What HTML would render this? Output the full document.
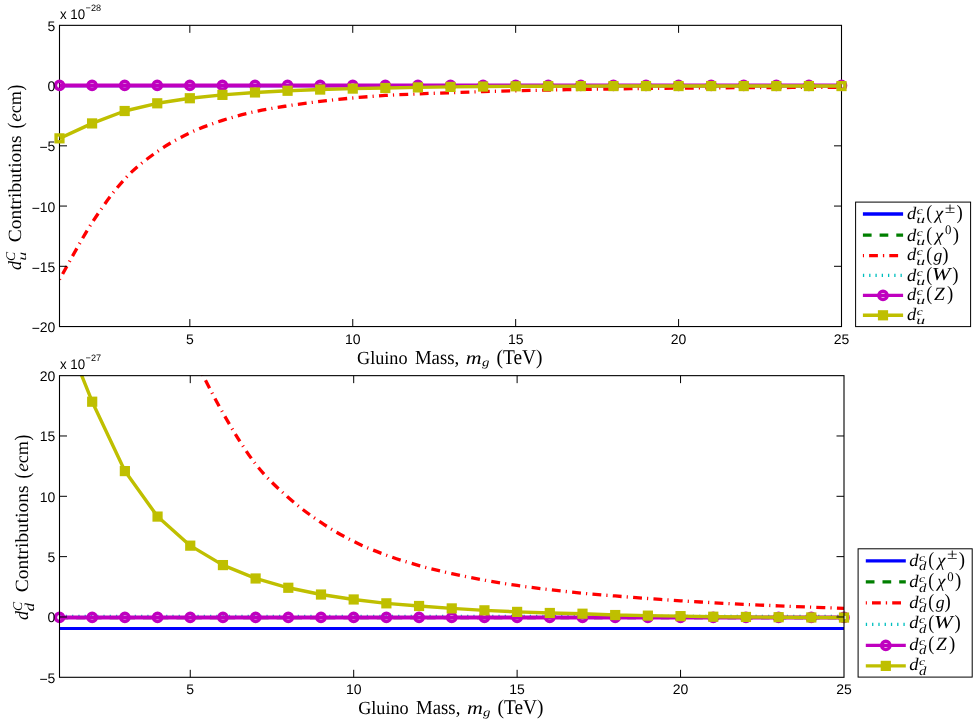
<!DOCTYPE html>
<html><head><meta charset="utf-8"><title>plot</title>
<style>
html,body{margin:0;padding:0;background:#fff;}
body{width:975px;height:725px;overflow:hidden;}
svg{display:block;will-change:transform;}
text{text-rendering:geometricPrecision;}
.tk{font-family:"Liberation Sans",sans-serif;font-size:14px;fill:#000;}
.ex{font-family:"Liberation Sans",sans-serif;font-size:9.3px;fill:#000;}
.lb{font-family:"Liberation Serif",serif;font-size:19.5px;fill:#000;}
.lg{font-family:"Liberation Serif",serif;font-size:18.5px;fill:#000;}
.it{font-style:italic;}
</style></head><body>
<svg width="975" height="725" viewBox="0 0 975 725">
<rect x="0" y="0" width="975" height="725" fill="#fff"/>

<defs><clipPath id="cpT"><rect x="59.50" y="24.85" width="782.50" height="302.20"/></clipPath></defs>
<g id="plotT">
<g clip-path="url(#cpT)" fill="none" stroke-linejoin="round">
<line x1="59.50" y1="85.69" x2="841.50" y2="85.69" stroke="#0000ff" stroke-width="3.1"/>
<line x1="59.50" y1="85.59" x2="841.50" y2="85.59" stroke="#007f00" stroke-width="3.0" stroke-dasharray="8.7 8"/>
<path d="M59.50,279.56 C64.93,270.09 81.22,239.44 92.08,222.70 C102.94,205.95 113.81,190.93 124.67,179.08 C135.53,167.24 146.39,159.30 157.25,151.61 C168.11,143.92 178.97,138.14 189.83,132.94 C200.69,127.74 211.56,123.96 222.42,120.41 C233.28,116.85 244.14,114.04 255.00,111.61 C265.86,109.18 276.72,107.54 287.58,105.83 C298.44,104.12 309.31,102.68 320.17,101.37 C331.03,100.07 341.89,98.98 352.75,98.00 C363.61,97.02 374.47,96.15 385.33,95.47 C396.19,94.79 407.06,94.36 417.92,93.90 C428.78,93.44 439.64,93.08 450.50,92.70 C461.36,92.32 472.22,91.94 483.08,91.61 C493.94,91.29 504.81,91.03 515.67,90.77 C526.53,90.51 537.39,90.27 548.25,90.05 C559.11,89.83 569.97,89.63 580.83,89.45 C591.69,89.26 602.56,89.12 613.42,88.96 C624.28,88.80 635.14,88.62 646.00,88.48 C656.86,88.34 667.72,88.22 678.58,88.12 C689.44,88.02 700.31,87.96 711.17,87.88 C722.03,87.80 732.89,87.70 743.75,87.64 C754.61,87.58 765.47,87.56 776.33,87.52 C787.19,87.48 798.06,87.44 808.92,87.40 C819.78,87.36 836.07,87.30 841.50,87.28" stroke="#ff0000" stroke-width="3.3" stroke-dasharray="8.85 5.1 1.15 5.3" stroke-dashoffset="13.9"/>
<line x1="59.50" y1="85.59" x2="841.50" y2="85.59" stroke="#00bfbf" stroke-width="2.6" stroke-dasharray="1.3 4.97"/>
</g>
<rect x="59.50" y="25.35" width="782.00" height="301.20" fill="none" stroke="#000" stroke-width="1.1"/>
<line x1="189.83" y1="326.55" x2="189.83" y2="319.05" stroke="#000" stroke-width="1"/>
<line x1="189.83" y1="25.35" x2="189.83" y2="32.85" stroke="#000" stroke-width="1"/>
<line x1="352.75" y1="326.55" x2="352.75" y2="319.05" stroke="#000" stroke-width="1"/>
<line x1="352.75" y1="25.35" x2="352.75" y2="32.85" stroke="#000" stroke-width="1"/>
<line x1="515.67" y1="326.55" x2="515.67" y2="319.05" stroke="#000" stroke-width="1"/>
<line x1="515.67" y1="25.35" x2="515.67" y2="32.85" stroke="#000" stroke-width="1"/>
<line x1="678.58" y1="326.55" x2="678.58" y2="319.05" stroke="#000" stroke-width="1"/>
<line x1="678.58" y1="25.35" x2="678.58" y2="32.85" stroke="#000" stroke-width="1"/>
<line x1="59.50" y1="85.59" x2="67.00" y2="85.59" stroke="#000" stroke-width="1"/>
<line x1="841.50" y1="85.59" x2="834.00" y2="85.59" stroke="#000" stroke-width="1"/>
<line x1="59.50" y1="145.83" x2="67.00" y2="145.83" stroke="#000" stroke-width="1"/>
<line x1="841.50" y1="145.83" x2="834.00" y2="145.83" stroke="#000" stroke-width="1"/>
<line x1="59.50" y1="206.07" x2="67.00" y2="206.07" stroke="#000" stroke-width="1"/>
<line x1="841.50" y1="206.07" x2="834.00" y2="206.07" stroke="#000" stroke-width="1"/>
<line x1="59.50" y1="266.31" x2="67.00" y2="266.31" stroke="#000" stroke-width="1"/>
<line x1="841.50" y1="266.31" x2="834.00" y2="266.31" stroke="#000" stroke-width="1"/>
<line x1="59.50" y1="85.39" x2="841.50" y2="85.39" stroke="#bf00bf" stroke-width="4.0"/>
<circle cx="59.50" cy="85.39" r="4.1" fill="none" stroke="#bf00bf" stroke-width="3.5"/>
<circle cx="92.08" cy="85.39" r="4.1" fill="none" stroke="#bf00bf" stroke-width="3.5"/>
<circle cx="124.67" cy="85.39" r="4.1" fill="none" stroke="#bf00bf" stroke-width="3.5"/>
<circle cx="157.25" cy="85.39" r="4.1" fill="none" stroke="#bf00bf" stroke-width="3.5"/>
<circle cx="189.83" cy="85.39" r="4.1" fill="none" stroke="#bf00bf" stroke-width="3.5"/>
<circle cx="222.42" cy="85.39" r="4.1" fill="none" stroke="#bf00bf" stroke-width="3.5"/>
<circle cx="255.00" cy="85.39" r="4.1" fill="none" stroke="#bf00bf" stroke-width="3.5"/>
<circle cx="287.58" cy="85.39" r="4.1" fill="none" stroke="#bf00bf" stroke-width="3.5"/>
<circle cx="320.17" cy="85.39" r="4.1" fill="none" stroke="#bf00bf" stroke-width="3.5"/>
<circle cx="352.75" cy="85.39" r="4.1" fill="none" stroke="#bf00bf" stroke-width="3.5"/>
<circle cx="385.33" cy="85.39" r="4.1" fill="none" stroke="#bf00bf" stroke-width="3.5"/>
<circle cx="417.92" cy="85.39" r="4.1" fill="none" stroke="#bf00bf" stroke-width="3.5"/>
<circle cx="450.50" cy="85.39" r="4.1" fill="none" stroke="#bf00bf" stroke-width="3.5"/>
<circle cx="483.08" cy="85.39" r="4.1" fill="none" stroke="#bf00bf" stroke-width="3.5"/>
<circle cx="515.67" cy="85.39" r="4.1" fill="none" stroke="#bf00bf" stroke-width="3.5"/>
<circle cx="548.25" cy="85.39" r="4.1" fill="none" stroke="#bf00bf" stroke-width="3.5"/>
<circle cx="580.83" cy="85.39" r="4.1" fill="none" stroke="#bf00bf" stroke-width="3.5"/>
<circle cx="613.42" cy="85.39" r="4.1" fill="none" stroke="#bf00bf" stroke-width="3.5"/>
<circle cx="646.00" cy="85.39" r="4.1" fill="none" stroke="#bf00bf" stroke-width="3.5"/>
<circle cx="678.58" cy="85.39" r="4.1" fill="none" stroke="#bf00bf" stroke-width="3.5"/>
<circle cx="711.17" cy="85.39" r="4.1" fill="none" stroke="#bf00bf" stroke-width="3.5"/>
<circle cx="743.75" cy="85.39" r="4.1" fill="none" stroke="#bf00bf" stroke-width="3.5"/>
<circle cx="776.33" cy="85.39" r="4.1" fill="none" stroke="#bf00bf" stroke-width="3.5"/>
<circle cx="808.92" cy="85.39" r="4.1" fill="none" stroke="#bf00bf" stroke-width="3.5"/>
<circle cx="841.50" cy="85.39" r="4.1" fill="none" stroke="#bf00bf" stroke-width="3.5"/>
<polyline clip-path="url(#cpT)" points="59.50,138.36 92.08,123.42 124.67,111.01 157.25,103.30 189.83,98.24 222.42,94.87 255.00,92.46 287.58,90.77 320.17,89.57 352.75,88.60 385.33,88.00 417.92,87.40 450.50,86.92 483.08,86.55 515.67,86.31 548.25,86.19 580.83,86.13 613.42,86.07 646.00,86.07 678.58,86.07 711.17,86.07 743.75,86.07 776.33,86.07 808.92,86.07 841.50,86.07" fill="none" stroke="#bfbf00" stroke-width="3.4" stroke-linejoin="round"/>
<rect x="56.10" y="134.96" width="6.80" height="6.80" fill="none" stroke="#bfbf00" stroke-width="3.4"/>
<rect x="88.68" y="120.02" width="6.80" height="6.80" fill="#bfbf00" stroke="#bfbf00" stroke-width="3.4"/>
<rect x="121.27" y="107.61" width="6.80" height="6.80" fill="#bfbf00" stroke="#bfbf00" stroke-width="3.4"/>
<rect x="153.85" y="99.90" width="6.80" height="6.80" fill="#bfbf00" stroke="#bfbf00" stroke-width="3.4"/>
<rect x="186.43" y="94.84" width="6.80" height="6.80" fill="#bfbf00" stroke="#bfbf00" stroke-width="3.4"/>
<rect x="219.02" y="91.47" width="6.80" height="6.80" fill="#bfbf00" stroke="#bfbf00" stroke-width="3.4"/>
<rect x="251.60" y="89.06" width="6.80" height="6.80" fill="#bfbf00" stroke="#bfbf00" stroke-width="3.4"/>
<rect x="284.18" y="87.37" width="6.80" height="6.80" fill="#bfbf00" stroke="#bfbf00" stroke-width="3.4"/>
<rect x="316.77" y="86.17" width="6.80" height="6.80" fill="#bfbf00" stroke="#bfbf00" stroke-width="3.4"/>
<rect x="349.35" y="85.20" width="6.80" height="6.80" fill="#bfbf00" stroke="#bfbf00" stroke-width="3.4"/>
<rect x="381.93" y="84.60" width="6.80" height="6.80" fill="#bfbf00" stroke="#bfbf00" stroke-width="3.4"/>
<rect x="414.52" y="84.00" width="6.80" height="6.80" fill="#bfbf00" stroke="#bfbf00" stroke-width="3.4"/>
<rect x="447.10" y="83.52" width="6.80" height="6.80" fill="#bfbf00" stroke="#bfbf00" stroke-width="3.4"/>
<rect x="479.68" y="83.15" width="6.80" height="6.80" fill="#bfbf00" stroke="#bfbf00" stroke-width="3.4"/>
<rect x="512.27" y="82.91" width="6.80" height="6.80" fill="#bfbf00" stroke="#bfbf00" stroke-width="3.4"/>
<rect x="544.85" y="82.79" width="6.80" height="6.80" fill="#bfbf00" stroke="#bfbf00" stroke-width="3.4"/>
<rect x="577.43" y="82.73" width="6.80" height="6.80" fill="#bfbf00" stroke="#bfbf00" stroke-width="3.4"/>
<rect x="610.02" y="82.67" width="6.80" height="6.80" fill="#bfbf00" stroke="#bfbf00" stroke-width="3.4"/>
<rect x="642.60" y="82.67" width="6.80" height="6.80" fill="#bfbf00" stroke="#bfbf00" stroke-width="3.4"/>
<rect x="675.18" y="82.67" width="6.80" height="6.80" fill="#bfbf00" stroke="#bfbf00" stroke-width="3.4"/>
<rect x="707.77" y="82.67" width="6.80" height="6.80" fill="#bfbf00" stroke="#bfbf00" stroke-width="3.4"/>
<rect x="740.35" y="82.67" width="6.80" height="6.80" fill="#bfbf00" stroke="#bfbf00" stroke-width="3.4"/>
<rect x="772.93" y="82.67" width="6.80" height="6.80" fill="#bfbf00" stroke="#bfbf00" stroke-width="3.4"/>
<rect x="805.52" y="82.67" width="6.80" height="6.80" fill="#bfbf00" stroke="#bfbf00" stroke-width="3.4"/>
<rect x="838.10" y="82.67" width="6.80" height="6.80" fill="none" stroke="#bfbf00" stroke-width="3.4"/>
<text class="tk" x="189.83" y="343.65" text-anchor="middle">5</text>
<text class="tk" x="352.75" y="343.65" text-anchor="middle">10</text>
<text class="tk" x="515.67" y="343.65" text-anchor="middle">15</text>
<text class="tk" x="678.58" y="343.65" text-anchor="middle">20</text>
<text class="tk" x="841.50" y="343.65" text-anchor="middle">25</text>
<text class="tk" x="55.4" y="30.80" text-anchor="end">5</text>
<text class="tk" x="55.4" y="91.04" text-anchor="end">0</text>
<text class="tk" x="55.4" y="151.28" text-anchor="end"><tspan dy="1.1">−</tspan><tspan dy="-1.1">5</tspan></text>
<text class="tk" x="55.4" y="211.52" text-anchor="end"><tspan dy="1.1">−</tspan><tspan dy="-1.1">10</tspan></text>
<text class="tk" x="55.4" y="271.76" text-anchor="end"><tspan dy="1.1">−</tspan><tspan dy="-1.1">15</tspan></text>
<text class="tk" x="55.4" y="332.00" text-anchor="end"><tspan dy="1.1">−</tspan><tspan dy="-1.1">20</tspan></text>
</g>
<defs><clipPath id="cpB"><rect x="59.50" y="375.15" width="785.00" height="302.65"/></clipPath></defs>
<g id="plotB">
<g clip-path="url(#cpB)" fill="none" stroke-linejoin="round">
<line x1="59.50" y1="628.53" x2="844.00" y2="628.53" stroke="#0000ff" stroke-width="3.1"/>
<line x1="59.50" y1="617.87" x2="844.00" y2="617.87" stroke="#007f00" stroke-width="3.0" stroke-dasharray="8.7 8"/>
<path d="M190.25,350.31 C195.70,360.77 212.04,394.09 222.94,413.05 C233.83,432.02 244.73,450.02 255.62,464.09 C266.52,478.17 277.42,487.78 288.31,497.52 C299.21,507.25 310.10,515.17 321.00,522.49 C331.90,529.81 342.79,535.99 353.69,541.44 C364.58,546.89 375.48,551.17 386.38,555.19 C397.27,559.21 408.17,562.49 419.06,565.57 C429.96,568.65 440.85,571.22 451.75,573.65 C462.65,576.09 473.54,578.20 484.44,580.17 C495.33,582.14 506.23,583.89 517.12,585.48 C528.02,587.07 538.92,588.41 549.81,589.70 C560.71,590.99 571.60,592.15 582.50,593.20 C593.40,594.25 604.29,595.09 615.19,595.98 C626.08,596.86 636.98,597.70 647.88,598.51 C658.77,599.31 669.67,600.10 680.56,600.80 C691.46,601.51 702.35,602.13 713.25,602.73 C724.15,603.34 735.04,603.90 745.94,604.42 C756.83,604.94 767.73,605.41 778.62,605.87 C789.52,606.33 800.42,606.79 811.31,607.20 C822.21,607.60 838.55,608.10 844.00,608.28" stroke="#ff0000" stroke-width="3.3" stroke-dasharray="8.85 5.1 1.15 5.3" stroke-dashoffset="7.1"/>
<line x1="59.50" y1="616.07" x2="844.00" y2="616.07" stroke="#00bfbf" stroke-width="2.6" stroke-dasharray="1.3 4.97"/>
</g>
<line x1="59.50" y1="617.47" x2="844.00" y2="617.47" stroke="#bf00bf" stroke-width="4.0"/>
<circle cx="59.50" cy="617.47" r="4.1" fill="none" stroke="#bf00bf" stroke-width="3.5"/>
<circle cx="92.19" cy="617.47" r="4.1" fill="none" stroke="#bf00bf" stroke-width="3.5"/>
<circle cx="124.88" cy="617.47" r="4.1" fill="none" stroke="#bf00bf" stroke-width="3.5"/>
<circle cx="157.56" cy="617.47" r="4.1" fill="none" stroke="#bf00bf" stroke-width="3.5"/>
<circle cx="190.25" cy="617.47" r="4.1" fill="none" stroke="#bf00bf" stroke-width="3.5"/>
<circle cx="222.94" cy="617.47" r="4.1" fill="none" stroke="#bf00bf" stroke-width="3.5"/>
<circle cx="255.62" cy="617.47" r="4.1" fill="none" stroke="#bf00bf" stroke-width="3.5"/>
<circle cx="288.31" cy="617.47" r="4.1" fill="none" stroke="#bf00bf" stroke-width="3.5"/>
<circle cx="321.00" cy="617.47" r="4.1" fill="none" stroke="#bf00bf" stroke-width="3.5"/>
<circle cx="353.69" cy="617.47" r="4.1" fill="none" stroke="#bf00bf" stroke-width="3.5"/>
<circle cx="386.38" cy="617.47" r="4.1" fill="none" stroke="#bf00bf" stroke-width="3.5"/>
<circle cx="419.06" cy="617.47" r="4.1" fill="none" stroke="#bf00bf" stroke-width="3.5"/>
<circle cx="451.75" cy="617.47" r="4.1" fill="none" stroke="#bf00bf" stroke-width="3.5"/>
<circle cx="484.44" cy="617.47" r="4.1" fill="none" stroke="#bf00bf" stroke-width="3.5"/>
<circle cx="517.12" cy="617.47" r="4.1" fill="none" stroke="#bf00bf" stroke-width="3.5"/>
<circle cx="549.81" cy="617.47" r="4.1" fill="none" stroke="#bf00bf" stroke-width="3.5"/>
<circle cx="582.50" cy="617.47" r="4.1" fill="none" stroke="#bf00bf" stroke-width="3.5"/>
<circle cx="615.19" cy="617.47" r="4.1" fill="none" stroke="#bf00bf" stroke-width="3.5"/>
<circle cx="647.88" cy="617.47" r="4.1" fill="none" stroke="#bf00bf" stroke-width="3.5"/>
<circle cx="680.56" cy="617.47" r="4.1" fill="none" stroke="#bf00bf" stroke-width="3.5"/>
<circle cx="713.25" cy="617.47" r="4.1" fill="none" stroke="#bf00bf" stroke-width="3.5"/>
<circle cx="745.94" cy="617.47" r="4.1" fill="none" stroke="#bf00bf" stroke-width="3.5"/>
<circle cx="778.62" cy="617.47" r="4.1" fill="none" stroke="#bf00bf" stroke-width="3.5"/>
<circle cx="811.31" cy="617.47" r="4.1" fill="none" stroke="#bf00bf" stroke-width="3.5"/>
<circle cx="844.00" cy="617.47" r="4.1" fill="none" stroke="#bf00bf" stroke-width="3.5"/>
<polyline clip-path="url(#cpB)" points="59.50,320.15 92.19,401.71 124.88,471.09 157.56,516.58 190.25,545.66 222.94,565.09 255.62,578.48 288.31,587.77 321.00,594.53 353.69,599.47 386.38,603.34 419.06,605.99 451.75,608.40 484.44,610.33 517.12,611.90 549.81,612.99 582.50,613.71 615.19,615.04 647.88,615.64 680.56,616.13 713.25,616.73 745.94,616.97 778.62,617.21 811.31,617.45 844.00,617.57" fill="none" stroke="#bfbf00" stroke-width="3.4" stroke-linejoin="round"/>
<rect x="88.79" y="398.31" width="6.80" height="6.80" fill="#bfbf00" stroke="#bfbf00" stroke-width="3.4"/>
<rect x="121.47" y="467.69" width="6.80" height="6.80" fill="#bfbf00" stroke="#bfbf00" stroke-width="3.4"/>
<rect x="154.16" y="513.18" width="6.80" height="6.80" fill="#bfbf00" stroke="#bfbf00" stroke-width="3.4"/>
<rect x="186.85" y="542.26" width="6.80" height="6.80" fill="#bfbf00" stroke="#bfbf00" stroke-width="3.4"/>
<rect x="219.54" y="561.69" width="6.80" height="6.80" fill="#bfbf00" stroke="#bfbf00" stroke-width="3.4"/>
<rect x="252.22" y="575.08" width="6.80" height="6.80" fill="#bfbf00" stroke="#bfbf00" stroke-width="3.4"/>
<rect x="284.91" y="584.37" width="6.80" height="6.80" fill="#bfbf00" stroke="#bfbf00" stroke-width="3.4"/>
<rect x="317.60" y="591.13" width="6.80" height="6.80" fill="#bfbf00" stroke="#bfbf00" stroke-width="3.4"/>
<rect x="350.29" y="596.07" width="6.80" height="6.80" fill="#bfbf00" stroke="#bfbf00" stroke-width="3.4"/>
<rect x="382.98" y="599.94" width="6.80" height="6.80" fill="#bfbf00" stroke="#bfbf00" stroke-width="3.4"/>
<rect x="415.66" y="602.59" width="6.80" height="6.80" fill="#bfbf00" stroke="#bfbf00" stroke-width="3.4"/>
<rect x="448.35" y="605.00" width="6.80" height="6.80" fill="#bfbf00" stroke="#bfbf00" stroke-width="3.4"/>
<rect x="481.04" y="606.93" width="6.80" height="6.80" fill="#bfbf00" stroke="#bfbf00" stroke-width="3.4"/>
<rect x="513.73" y="608.50" width="6.80" height="6.80" fill="#bfbf00" stroke="#bfbf00" stroke-width="3.4"/>
<rect x="546.41" y="609.59" width="6.80" height="6.80" fill="#bfbf00" stroke="#bfbf00" stroke-width="3.4"/>
<rect x="579.10" y="610.31" width="6.80" height="6.80" fill="#bfbf00" stroke="#bfbf00" stroke-width="3.4"/>
<rect x="611.79" y="611.64" width="6.80" height="6.80" fill="#bfbf00" stroke="#bfbf00" stroke-width="3.4"/>
<rect x="644.48" y="612.24" width="6.80" height="6.80" fill="#bfbf00" stroke="#bfbf00" stroke-width="3.4"/>
<rect x="677.16" y="612.73" width="6.80" height="6.80" fill="#bfbf00" stroke="#bfbf00" stroke-width="3.4"/>
<rect x="709.85" y="613.33" width="6.80" height="6.80" fill="#bfbf00" stroke="#bfbf00" stroke-width="3.4"/>
<rect x="742.54" y="613.57" width="6.80" height="6.80" fill="#bfbf00" stroke="#bfbf00" stroke-width="3.4"/>
<rect x="775.23" y="613.81" width="6.80" height="6.80" fill="#bfbf00" stroke="#bfbf00" stroke-width="3.4"/>
<rect x="807.91" y="614.05" width="6.80" height="6.80" fill="#bfbf00" stroke="#bfbf00" stroke-width="3.4"/>
<rect x="840.60" y="614.17" width="6.80" height="6.80" fill="none" stroke="#bfbf00" stroke-width="3.4"/>
<rect x="59.50" y="375.65" width="784.50" height="301.65" fill="none" stroke="#000" stroke-width="1.1"/>
<line x1="190.25" y1="677.30" x2="190.25" y2="669.80" stroke="#000" stroke-width="1"/>
<line x1="190.25" y1="375.65" x2="190.25" y2="383.15" stroke="#000" stroke-width="1"/>
<line x1="353.69" y1="677.30" x2="353.69" y2="669.80" stroke="#000" stroke-width="1"/>
<line x1="353.69" y1="375.65" x2="353.69" y2="383.15" stroke="#000" stroke-width="1"/>
<line x1="517.12" y1="677.30" x2="517.12" y2="669.80" stroke="#000" stroke-width="1"/>
<line x1="517.12" y1="375.65" x2="517.12" y2="383.15" stroke="#000" stroke-width="1"/>
<line x1="680.56" y1="677.30" x2="680.56" y2="669.80" stroke="#000" stroke-width="1"/>
<line x1="680.56" y1="375.65" x2="680.56" y2="383.15" stroke="#000" stroke-width="1"/>
<line x1="59.50" y1="435.98" x2="67.00" y2="435.98" stroke="#000" stroke-width="1"/>
<line x1="844.00" y1="435.98" x2="836.50" y2="435.98" stroke="#000" stroke-width="1"/>
<line x1="59.50" y1="496.31" x2="67.00" y2="496.31" stroke="#000" stroke-width="1"/>
<line x1="844.00" y1="496.31" x2="836.50" y2="496.31" stroke="#000" stroke-width="1"/>
<line x1="59.50" y1="556.64" x2="67.00" y2="556.64" stroke="#000" stroke-width="1"/>
<line x1="844.00" y1="556.64" x2="836.50" y2="556.64" stroke="#000" stroke-width="1"/>
<line x1="59.50" y1="616.97" x2="67.00" y2="616.97" stroke="#000" stroke-width="1"/>
<line x1="844.00" y1="616.97" x2="836.50" y2="616.97" stroke="#000" stroke-width="1"/>
<text class="tk" x="190.25" y="694.40" text-anchor="middle">5</text>
<text class="tk" x="353.69" y="694.40" text-anchor="middle">10</text>
<text class="tk" x="517.12" y="694.40" text-anchor="middle">15</text>
<text class="tk" x="680.56" y="694.40" text-anchor="middle">20</text>
<text class="tk" x="844.00" y="694.40" text-anchor="middle">25</text>
<text class="tk" x="55.4" y="381.10" text-anchor="end">20</text>
<text class="tk" x="55.4" y="441.43" text-anchor="end">15</text>
<text class="tk" x="55.4" y="501.76" text-anchor="end">10</text>
<text class="tk" x="55.4" y="562.09" text-anchor="end">5</text>
<text class="tk" x="55.4" y="622.42" text-anchor="end">0</text>
<text class="tk" x="55.4" y="682.75" text-anchor="end"><tspan dy="1.1">−</tspan><tspan dy="-1.1">5</tspan></text>
</g>
<text transform="matrix(0.9497 0 0 1.0000 60.00 18.75)" font-family="Liberation Sans" font-size="14" fill="#000">x 10</text>
<text transform="matrix(0.9720 0 0 1.0000 85.57 10.75)" font-family="Liberation Sans" font-size="9.4" fill="#000">−28</text>
<text transform="matrix(0.9497 0 0 1.0000 60.00 369.05)" font-family="Liberation Sans" font-size="14" fill="#000">x 10</text>
<text transform="matrix(0.9720 0 0 1.0000 85.57 361.05)" font-family="Liberation Sans" font-size="9.4" fill="#000">−27</text>
<g id="xlT">
<text transform="matrix(0.9188 0 0 0.9410 357.03 363.90)" font-family="Liberation Serif" font-size="19.8" fill="#000">Gluino</text>
<text transform="matrix(0.9490 0 0 1.0082 414.91 363.90)" font-family="Liberation Serif" font-size="19.8" fill="#000">Mass,</text>
<text transform="matrix(1.1082 0 0 0.9384 465.81 363.90)" font-family="Liberation Serif" font-size="19.8" font-style="italic" fill="#000">m</text>
<text transform="matrix(1.0694 0 0 0.8288 481.90 366.08)" font-family="Liberation Serif" font-size="13.9" font-style="italic" fill="#000">g</text>
<text transform="matrix(0.9791 0 0 1.0628 496.49 364.00)" font-family="Liberation Serif" font-size="19.8" fill="#000">(TeV)</text>
</g>
<g id="xlB">
<text transform="matrix(0.9188 0 0 0.9410 358.13 714.30)" font-family="Liberation Serif" font-size="19.8" fill="#000">Gluino</text>
<text transform="matrix(0.9490 0 0 1.0082 416.01 714.30)" font-family="Liberation Serif" font-size="19.8" fill="#000">Mass,</text>
<text transform="matrix(1.1082 0 0 0.9384 466.91 714.30)" font-family="Liberation Serif" font-size="19.8" font-style="italic" fill="#000">m</text>
<text transform="matrix(1.0694 0 0 0.8288 483.00 716.48)" font-family="Liberation Serif" font-size="13.9" font-style="italic" fill="#000">g</text>
<text transform="matrix(0.9791 0 0 1.0628 497.59 714.40)" font-family="Liberation Serif" font-size="19.8" fill="#000">(TeV)</text>
</g>
<g id="ylT" transform="translate(21.40,269.70) rotate(-90)">
<text transform="matrix(0.9091 0 0 0.9410 -0.28 0.00)" font-family="Liberation Serif" font-size="19.8" font-style="italic" fill="#000">d</text>
<text transform="matrix(0.9770 0 0 0.9627 8.66 -6.21)" font-family="Liberation Serif" font-size="13.9" font-style="italic" fill="#000">C</text>
<text transform="matrix(1.2960 0 0 0.8466 8.86 4.62)" font-family="Liberation Serif" font-size="13.9" font-style="italic" fill="#000">u</text>
<text transform="matrix(0.9814 0 0 0.9410 27.49 0.00)" font-family="Liberation Serif" font-size="19.8" fill="#000">Contributions</text>
<text transform="matrix(0.8799 0 0 1.0574 141.26 0.22)" font-family="Liberation Serif" font-size="19.8" fill="#000">(</text>
<text transform="matrix(0.9821 0 0 0.9176 148.00 0.00)" font-family="Liberation Serif" font-size="19.8" font-style="italic" fill="#000">e</text>
<text transform="matrix(0.9216 0 0 0.9176 156.43 0.00)" font-family="Liberation Serif" font-size="19.8" fill="#000">cm</text>
<text transform="matrix(0.8746 0 0 1.0574 179.16 0.22)" font-family="Liberation Serif" font-size="19.8" fill="#000">)</text>
</g>
<g id="ylB" transform="translate(28.40,619.70) rotate(-90)">
<text transform="matrix(0.9091 0 0 0.9410 -0.28 0.00)" font-family="Liberation Serif" font-size="19.8" font-style="italic" fill="#000">d</text>
<text transform="matrix(0.9770 0 0 0.9627 8.66 -6.21)" font-family="Liberation Serif" font-size="13.9" font-style="italic" fill="#000">C</text>
<text transform="matrix(1.1942 0 0 0.9709 8.34 5.39)" font-family="Liberation Serif" font-size="13.9" font-style="italic" fill="#000">d</text>
<text transform="matrix(0.9814 0 0 0.9410 27.49 0.00)" font-family="Liberation Serif" font-size="19.8" fill="#000">Contributions</text>
<text transform="matrix(0.8799 0 0 1.0574 141.26 0.22)" font-family="Liberation Serif" font-size="19.8" fill="#000">(</text>
<text transform="matrix(0.9821 0 0 0.9176 148.00 0.00)" font-family="Liberation Serif" font-size="19.8" font-style="italic" fill="#000">e</text>
<text transform="matrix(0.9216 0 0 0.9176 156.43 0.00)" font-family="Liberation Serif" font-size="19.8" fill="#000">cm</text>
<text transform="matrix(0.8746 0 0 1.0574 179.16 0.22)" font-family="Liberation Serif" font-size="19.8" fill="#000">)</text>
</g>
<g id="lg1">
<rect x="855.60" y="202.10" width="115.00" height="124.50" fill="#fff" stroke="#000" stroke-width="1"/>
<line x1="862.90" y1="214.00" x2="903.10" y2="214.00" stroke="#0000ff" stroke-width="3.3"/>
<line x1="862.90" y1="235.20" x2="903.10" y2="235.20" stroke="#007f00" stroke-width="3.3" stroke-dasharray="8.7 8"/>
<line x1="862.90" y1="255.60" x2="903.10" y2="255.60" stroke="#ff0000" stroke-width="3.3" stroke-dasharray="8.8 5 1.3 5.1" stroke-dashoffset="14.0"/>
<line x1="862.90" y1="275.45" x2="903.10" y2="275.45" stroke="#00bfbf" stroke-width="3.2" stroke-dasharray="1.3 4.97"/>
<line x1="862.90" y1="295.40" x2="903.10" y2="295.40" stroke="#bf00bf" stroke-width="3.4"/>
<circle cx="883.00" cy="295.40" r="4.1" fill="none" stroke="#bf00bf" stroke-width="3.5"/>
<line x1="862.90" y1="315.30" x2="903.10" y2="315.30" stroke="#bfbf00" stroke-width="3.4"/>
<rect x="879.60" y="311.90" width="6.80" height="6.80" fill="#bfbf00" stroke="#bfbf00" stroke-width="3.4"/>
<text transform="matrix(1.0000 0 0 0.9481 907.01 218.90)" font-family="Liberation Serif" font-size="18.6" font-style="italic" fill="#000">d</text>
<text transform="matrix(1.0393 0 0 0.7846 916.79 213.94)" font-family="Liberation Serif" font-size="13.0" font-style="italic" fill="#000">c</text>
<text transform="matrix(1.3675 0 0 0.8734 916.17 223.22)" font-family="Liberation Serif" font-size="13.0" font-style="italic" fill="#000">u</text>
<text transform="matrix(0.9558 0 0 1.0847 926.14 219.19)" font-family="Liberation Serif" font-size="18.6" fill="#000">(</text>
<text transform="matrix(0.9940 0 0 0.9541 934.93 219.02)" font-family="Liberation Serif" font-size="18.6" font-style="italic" fill="#000">χ</text>
<text transform="matrix(1.4769 0 0 1.1443 944.80 212.80)" font-family="Liberation Serif" font-size="13.0" fill="#000">±</text>
<text transform="matrix(1.0120 0 0 1.0847 956.61 219.19)" font-family="Liberation Serif" font-size="18.6" fill="#000">)</text>
<text transform="matrix(1.0000 0 0 0.9481 907.01 240.70)" font-family="Liberation Serif" font-size="18.6" font-style="italic" fill="#000">d</text>
<text transform="matrix(1.0393 0 0 0.7846 916.79 235.74)" font-family="Liberation Serif" font-size="13.0" font-style="italic" fill="#000">c</text>
<text transform="matrix(1.3675 0 0 0.8734 916.17 245.02)" font-family="Liberation Serif" font-size="13.0" font-style="italic" fill="#000">u</text>
<text transform="matrix(0.9558 0 0 1.0847 926.14 240.99)" font-family="Liberation Serif" font-size="18.6" fill="#000">(</text>
<text transform="matrix(0.9940 0 0 0.9541 934.93 240.82)" font-family="Liberation Serif" font-size="18.6" font-style="italic" fill="#000">χ</text>
<text transform="matrix(0.9846 0 0 1.0070 945.00 234.00)" font-family="Liberation Serif" font-size="13.0" fill="#000">0</text>
<text transform="matrix(1.0120 0 0 1.0847 952.71 240.99)" font-family="Liberation Serif" font-size="18.6" fill="#000">)</text>
<text transform="matrix(1.0000 0 0 0.9481 907.01 260.40)" font-family="Liberation Serif" font-size="18.6" font-style="italic" fill="#000">d</text>
<text transform="matrix(1.0393 0 0 0.7846 916.79 255.44)" font-family="Liberation Serif" font-size="13.0" font-style="italic" fill="#000">c</text>
<text transform="matrix(1.3675 0 0 0.8734 916.17 264.72)" font-family="Liberation Serif" font-size="13.0" font-style="italic" fill="#000">u</text>
<text transform="matrix(0.9558 0 0 1.0847 926.14 260.69)" font-family="Liberation Serif" font-size="18.6" fill="#000">(</text>
<text transform="matrix(0.9546 0 0 0.9329 933.50 260.60)" font-family="Liberation Serif" font-size="18.6" font-style="italic" fill="#000">g</text>
<text transform="matrix(1.0120 0 0 1.0847 942.31 260.69)" font-family="Liberation Serif" font-size="18.6" fill="#000">)</text>
<text transform="matrix(1.0000 0 0 0.9481 907.01 280.50)" font-family="Liberation Serif" font-size="18.6" font-style="italic" fill="#000">d</text>
<text transform="matrix(1.0393 0 0 0.7846 916.79 275.54)" font-family="Liberation Serif" font-size="13.0" font-style="italic" fill="#000">c</text>
<text transform="matrix(1.3675 0 0 0.8734 916.17 284.82)" font-family="Liberation Serif" font-size="13.0" font-style="italic" fill="#000">u</text>
<text transform="matrix(0.9558 0 0 1.0847 926.14 280.79)" font-family="Liberation Serif" font-size="18.6" fill="#000">(</text>
<text transform="matrix(1.2074 0 0 0.9922 931.80 280.41)" font-family="Liberation Serif" font-size="18.6" font-style="italic" fill="#000">W</text>
<text transform="matrix(1.0120 0 0 1.0847 952.21 280.79)" font-family="Liberation Serif" font-size="18.6" fill="#000">)</text>
<text transform="matrix(1.0000 0 0 0.9481 907.01 300.10)" font-family="Liberation Serif" font-size="18.6" font-style="italic" fill="#000">d</text>
<text transform="matrix(1.0393 0 0 0.7846 916.79 295.14)" font-family="Liberation Serif" font-size="13.0" font-style="italic" fill="#000">c</text>
<text transform="matrix(1.3675 0 0 0.8734 916.17 304.42)" font-family="Liberation Serif" font-size="13.0" font-style="italic" fill="#000">u</text>
<text transform="matrix(0.9558 0 0 1.0847 926.14 300.39)" font-family="Liberation Serif" font-size="18.6" fill="#000">(</text>
<text transform="matrix(1.0323 0 0 0.9995 933.90 300.10)" font-family="Liberation Serif" font-size="18.6" font-style="italic" fill="#000">Z</text>
<text transform="matrix(1.0120 0 0 1.0847 946.91 300.39)" font-family="Liberation Serif" font-size="18.6" fill="#000">)</text>
<text transform="matrix(1.0000 0 0 0.9481 907.01 319.60)" font-family="Liberation Serif" font-size="18.6" font-style="italic" fill="#000">d</text>
<text transform="matrix(1.0393 0 0 0.7846 916.79 314.64)" font-family="Liberation Serif" font-size="13.0" font-style="italic" fill="#000">c</text>
<text transform="matrix(1.3675 0 0 0.8734 916.17 323.92)" font-family="Liberation Serif" font-size="13.0" font-style="italic" fill="#000">u</text>
</g>
<g id="lg2">
<rect x="858.10" y="548.80" width="114.10" height="128.30" fill="#fff" stroke="#000" stroke-width="1"/>
<line x1="865.80" y1="560.80" x2="905.80" y2="560.80" stroke="#0000ff" stroke-width="3.3"/>
<line x1="865.80" y1="581.90" x2="905.80" y2="581.90" stroke="#007f00" stroke-width="3.3" stroke-dasharray="8.7 8"/>
<line x1="865.80" y1="602.95" x2="905.80" y2="602.95" stroke="#ff0000" stroke-width="3.3" stroke-dasharray="8.8 5 1.3 5.1" stroke-dashoffset="14.0"/>
<line x1="865.80" y1="624.30" x2="905.80" y2="624.30" stroke="#00bfbf" stroke-width="3.2" stroke-dasharray="1.3 4.97"/>
<line x1="865.80" y1="645.40" x2="905.80" y2="645.40" stroke="#bf00bf" stroke-width="3.4"/>
<circle cx="885.80" cy="645.40" r="4.1" fill="none" stroke="#bf00bf" stroke-width="3.5"/>
<line x1="865.80" y1="665.90" x2="905.80" y2="665.90" stroke="#bfbf00" stroke-width="3.4"/>
<rect x="882.40" y="662.50" width="6.80" height="6.80" fill="#bfbf00" stroke="#bfbf00" stroke-width="3.4"/>
<text transform="matrix(1.0000 0 0 0.9481 909.21 565.50)" font-family="Liberation Serif" font-size="18.6" font-style="italic" fill="#000">d</text>
<text transform="matrix(1.0393 0 0 0.7846 918.99 560.54)" font-family="Liberation Serif" font-size="13.0" font-style="italic" fill="#000">c</text>
<text transform="matrix(1.1385 0 0 0.9311 918.97 570.11)" font-family="Liberation Serif" font-size="13.0" font-style="italic" fill="#000">d</text>
<text transform="matrix(0.9558 0 0 1.0847 928.34 565.79)" font-family="Liberation Serif" font-size="18.6" fill="#000">(</text>
<text transform="matrix(0.9940 0 0 0.9541 937.13 565.62)" font-family="Liberation Serif" font-size="18.6" font-style="italic" fill="#000">χ</text>
<text transform="matrix(1.4769 0 0 1.1443 947.00 559.40)" font-family="Liberation Serif" font-size="13.0" fill="#000">±</text>
<text transform="matrix(1.0120 0 0 1.0847 958.81 565.79)" font-family="Liberation Serif" font-size="18.6" fill="#000">)</text>
<text transform="matrix(1.0000 0 0 0.9481 909.21 587.20)" font-family="Liberation Serif" font-size="18.6" font-style="italic" fill="#000">d</text>
<text transform="matrix(1.0393 0 0 0.7846 918.99 582.24)" font-family="Liberation Serif" font-size="13.0" font-style="italic" fill="#000">c</text>
<text transform="matrix(1.1385 0 0 0.9311 918.97 591.81)" font-family="Liberation Serif" font-size="13.0" font-style="italic" fill="#000">d</text>
<text transform="matrix(0.9558 0 0 1.0847 928.34 587.49)" font-family="Liberation Serif" font-size="18.6" fill="#000">(</text>
<text transform="matrix(0.9940 0 0 0.9541 937.13 587.32)" font-family="Liberation Serif" font-size="18.6" font-style="italic" fill="#000">χ</text>
<text transform="matrix(0.9846 0 0 1.0070 947.20 580.50)" font-family="Liberation Serif" font-size="13.0" fill="#000">0</text>
<text transform="matrix(1.0120 0 0 1.0847 954.91 587.49)" font-family="Liberation Serif" font-size="18.6" fill="#000">)</text>
<text transform="matrix(1.0000 0 0 0.9481 909.21 607.60)" font-family="Liberation Serif" font-size="18.6" font-style="italic" fill="#000">d</text>
<text transform="matrix(1.0393 0 0 0.7846 918.99 602.64)" font-family="Liberation Serif" font-size="13.0" font-style="italic" fill="#000">c</text>
<text transform="matrix(1.1385 0 0 0.9311 918.97 612.21)" font-family="Liberation Serif" font-size="13.0" font-style="italic" fill="#000">d</text>
<text transform="matrix(0.9558 0 0 1.0847 928.34 607.89)" font-family="Liberation Serif" font-size="18.6" fill="#000">(</text>
<text transform="matrix(0.9546 0 0 0.9329 935.70 607.80)" font-family="Liberation Serif" font-size="18.6" font-style="italic" fill="#000">g</text>
<text transform="matrix(1.0120 0 0 1.0847 944.51 607.89)" font-family="Liberation Serif" font-size="18.6" fill="#000">)</text>
<text transform="matrix(1.0000 0 0 0.9481 909.21 628.40)" font-family="Liberation Serif" font-size="18.6" font-style="italic" fill="#000">d</text>
<text transform="matrix(1.0393 0 0 0.7846 918.99 623.44)" font-family="Liberation Serif" font-size="13.0" font-style="italic" fill="#000">c</text>
<text transform="matrix(1.1385 0 0 0.9311 918.97 633.01)" font-family="Liberation Serif" font-size="13.0" font-style="italic" fill="#000">d</text>
<text transform="matrix(0.9558 0 0 1.0847 928.34 628.69)" font-family="Liberation Serif" font-size="18.6" fill="#000">(</text>
<text transform="matrix(1.2074 0 0 0.9922 934.00 628.31)" font-family="Liberation Serif" font-size="18.6" font-style="italic" fill="#000">W</text>
<text transform="matrix(1.0120 0 0 1.0847 954.41 628.69)" font-family="Liberation Serif" font-size="18.6" fill="#000">)</text>
<text transform="matrix(1.0000 0 0 0.9481 909.21 649.60)" font-family="Liberation Serif" font-size="18.6" font-style="italic" fill="#000">d</text>
<text transform="matrix(1.0393 0 0 0.7846 918.99 644.64)" font-family="Liberation Serif" font-size="13.0" font-style="italic" fill="#000">c</text>
<text transform="matrix(1.1385 0 0 0.9311 918.97 654.21)" font-family="Liberation Serif" font-size="13.0" font-style="italic" fill="#000">d</text>
<text transform="matrix(0.9558 0 0 1.0847 928.34 649.89)" font-family="Liberation Serif" font-size="18.6" fill="#000">(</text>
<text transform="matrix(1.0323 0 0 0.9995 936.10 649.60)" font-family="Liberation Serif" font-size="18.6" font-style="italic" fill="#000">Z</text>
<text transform="matrix(1.0120 0 0 1.0847 949.11 649.89)" font-family="Liberation Serif" font-size="18.6" fill="#000">)</text>
<text transform="matrix(1.0000 0 0 0.9481 909.21 670.00)" font-family="Liberation Serif" font-size="18.6" font-style="italic" fill="#000">d</text>
<text transform="matrix(1.0393 0 0 0.7846 918.99 665.04)" font-family="Liberation Serif" font-size="13.0" font-style="italic" fill="#000">c</text>
<text transform="matrix(1.1385 0 0 0.9311 918.97 674.61)" font-family="Liberation Serif" font-size="13.0" font-style="italic" fill="#000">d</text>
</g>
</svg></body></html>
